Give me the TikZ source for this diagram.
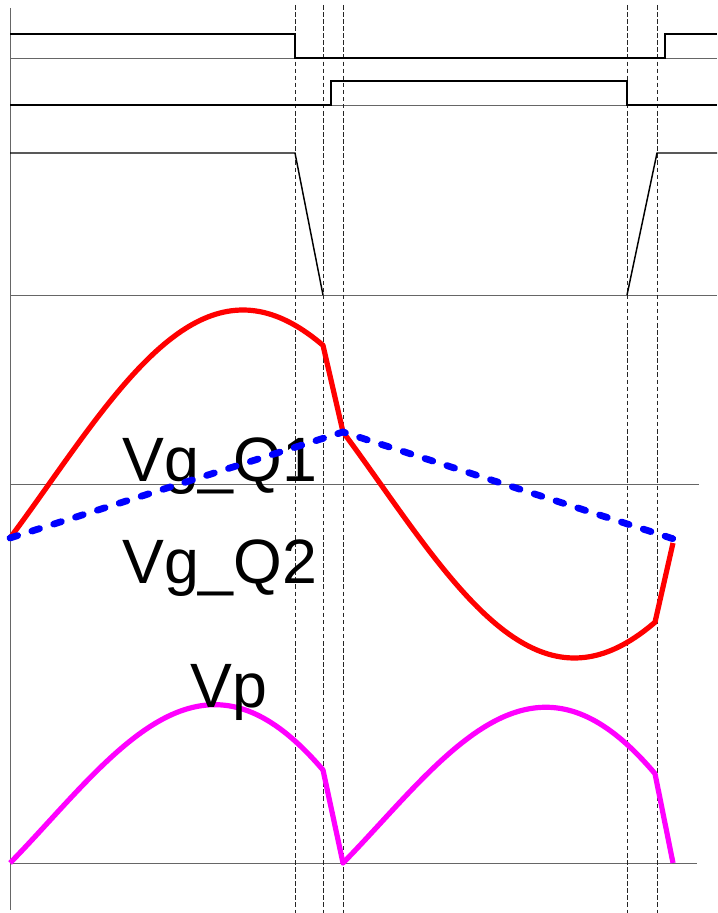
\documentclass[tikz,border=0pt]{standalone}
\usepackage{fontspec}
\setmainfont{Liberation Sans}
\usepackage{tikz}
\usetikzlibrary{positioning,calc}
\definecolor{vpcol}{RGB}{255,0,255}
\definecolor{vgred}{RGB}{255,0,0}
\definecolor{vgblue}{RGB}{0,0,255}

\begin{document}
\begin{tikzpicture}[
  x=0.75pt, y=-0.75pt,
  base/.style={draw=black!60, line width=0.7pt},
  guide/.style={draw=black!85, line width=0.6pt, dash pattern=on 3.4pt off 1.9pt},
  sig/.style={draw=black, line width=1.1pt},
  vgone/.style={draw=vgred, line width=3.9pt, line join=round},
  vgtwo/.style={draw=vgblue, line width=5.1pt, line cap=round, dash pattern=on 6pt off 11.2pt},
  vpw/.style={draw=vpcol, line width=3.9pt, line join=round},
  lbl/.style={anchor=base west, inner sep=0pt, font=\fontsize{47}{50}\selectfont}
]
\useasboundingbox (0,0) rectangle (717,913);

% ---------- Achsen und Nulllinien ----------
\draw[base] (10,8) -- (10,910);
\draw[base] (10,58) -- (717,58);
\draw[base] (10,105) -- (717,105);
\draw[base] (10,295) -- (717,295);
\draw[base] (10,484) -- (699,484);
\draw[base] (10,863) -- (697,863);

% ---------- Schaltzeitpunkte ----------
\foreach \t in {295,323,343,627,657}
  \draw[guide] (\t,5) -- (\t,913);

% ---------- Gate-Signale ----------
\draw[sig] (10,34) -- (295,34) -- (295,58) -- (665,58) -- (665,34) -- (717,34);
\draw[sig] (10,105) -- (331,105) -- (331,81) -- (627,81) -- (627,105) -- (717,105);
\draw[sig] (10,153) -- (295,153) -- (323,295);
\draw[sig] (627,295) -- (657,153) -- (717,153);

% ---------- Vg_Q1 / Vg_Q2 ----------
\draw[vgone] plot[domain=10:323, samples=80]
    (\x, {484-174*sin(-18.1+0.4641*(\x-10))})
  -- plot[domain=343:655, samples=80]
    (\x, {484-174*sin(162.6+0.4641*(\x-343))})
  -- (673,543);
\node[lbl] (lq1) at (122,481) {Vg\_Q1};
\node[lbl] (lq2) at (122,583) {Vg\_Q2};
\draw[vgtwo] (10,538) -- (343,432) -- (680,541);

% ---------- Vp ----------
\draw[vpw] plot[domain=10:323, samples=80]
    (\x, {863-abs(54-0.3183*(\x-10)+174*sin(-18.1+0.4641*(\x-10)))})
  -- (343,863)
  -- plot[domain=343:655, samples=80]
    (\x, {863-abs(-52+0.3234*(\x-343)+174*sin(162.6+0.4641*(\x-343)))})
  -- (673,863);
\node[lbl] (lvp) at (190,707) {Vp};

\end{tikzpicture}
\end{document}
